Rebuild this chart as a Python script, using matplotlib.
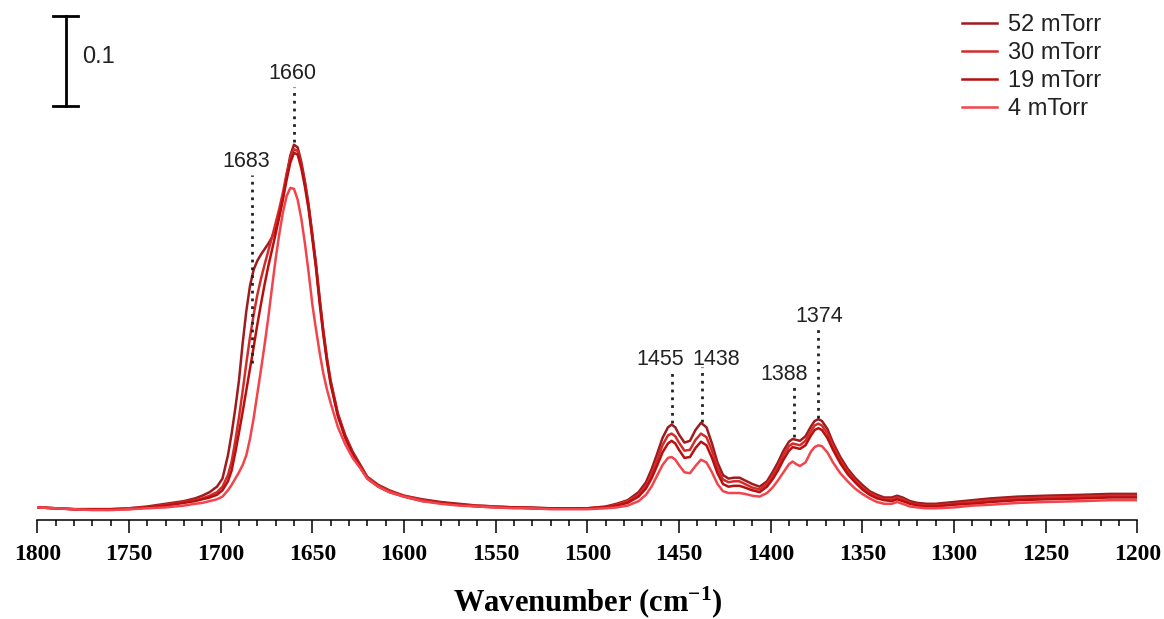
import matplotlib
matplotlib.use("Agg")
import matplotlib.pyplot as plt
from matplotlib.ticker import MultipleLocator

# wavenumber grid (cm-1) shared by all spectra
wavenumber = [1800, 1790, 1780, 1770, 1760, 1750, 1740, 1730, 1720,
              1714, 1710, 1706, 1702, 1699,
              1696, 1694, 1692, 1690, 1688, 1686, 1684, 1682, 1680, 1678,
              1676, 1674, 1672, 1670, 1668, 1666, 1664, 1662, 1660, 1658,
              1656, 1654, 1652, 1650, 1648, 1646, 1644, 1642, 1640,
              1636, 1632, 1628, 1624, 1620, 1614, 1608,
              1600, 1590, 1580, 1570, 1560, 1550, 1540, 1530, 1520, 1510, 1500,
              1490, 1484, 1478, 1472, 1468, 1465, 1462, 1459, 1456, 1454,
              1452, 1450, 1447, 1444, 1441, 1438, 1435, 1432, 1429, 1426,
              1423, 1420, 1417, 1414, 1410, 1406, 1402, 1399, 1396, 1393,
              1390, 1388, 1386, 1384, 1381, 1378, 1376, 1374, 1372, 1369,
              1366, 1362, 1358, 1354, 1350, 1346, 1342, 1338, 1334, 1331,
              1328, 1324, 1320, 1315, 1310,
              1300, 1290, 1280, 1265, 1250, 1230, 1215, 1200]

abs_52 = [0.014, 0.013, 0.012, 0.012, 0.012, 0.013, 0.015, 0.018, 0.021,
          0.024, 0.027, 0.031, 0.037, 0.046,
          0.072, 0.096, 0.124, 0.155, 0.196, 0.232, 0.260, 0.278, 0.288, 0.295,
          0.301, 0.307, 0.314, 0.324, 0.338, 0.358, 0.383, 0.405, 0.417, 0.414,
          0.398, 0.376, 0.350, 0.318, 0.285, 0.247, 0.211, 0.180, 0.155,
          0.118, 0.094, 0.076, 0.062, 0.048, 0.039, 0.033,
          0.027, 0.023, 0.020, 0.018, 0.016, 0.015, 0.014, 0.014, 0.013, 0.013, 0.013,
          0.015, 0.018, 0.022, 0.031, 0.042, 0.056, 0.073, 0.091, 0.103, 0.106,
          0.103, 0.095, 0.086, 0.088, 0.100, 0.108, 0.103, 0.085, 0.064, 0.050,
          0.046, 0.047, 0.047, 0.044, 0.040, 0.037, 0.043, 0.053, 0.064, 0.077,
          0.087, 0.090, 0.089, 0.088, 0.093, 0.104, 0.110, 0.112, 0.110, 0.101,
          0.086, 0.070, 0.057, 0.047, 0.039, 0.032, 0.028, 0.025, 0.025, 0.027,
          0.025, 0.021, 0.019, 0.018, 0.018,
          0.020, 0.022, 0.024, 0.026, 0.027, 0.028, 0.029, 0.029]

abs_30 = [0.014, 0.013, 0.012, 0.012, 0.012, 0.013, 0.014, 0.017, 0.020,
          0.022, 0.024, 0.027, 0.031, 0.037,
          0.050, 0.065, 0.088, 0.114, 0.143, 0.174, 0.203, 0.228, 0.250, 0.268,
          0.284, 0.299, 0.314, 0.330, 0.346, 0.364, 0.385, 0.402, 0.412, 0.410,
          0.395, 0.374, 0.348, 0.316, 0.283, 0.244, 0.209, 0.178, 0.153,
          0.116, 0.092, 0.074, 0.060, 0.047, 0.038, 0.032,
          0.027, 0.022, 0.019, 0.017, 0.016, 0.015, 0.014, 0.013, 0.013, 0.013, 0.013,
          0.014, 0.017, 0.021, 0.028, 0.038, 0.050, 0.066, 0.083, 0.094, 0.096,
          0.093, 0.086, 0.077, 0.078, 0.089, 0.096, 0.092, 0.077, 0.058, 0.045,
          0.042, 0.043, 0.043, 0.040, 0.036, 0.034, 0.040, 0.049, 0.059, 0.072,
          0.082, 0.085, 0.084, 0.083, 0.088, 0.099, 0.105, 0.107, 0.105, 0.096,
          0.082, 0.066, 0.054, 0.044, 0.036, 0.030, 0.026, 0.023, 0.023, 0.025,
          0.023, 0.019, 0.017, 0.016, 0.016,
          0.018, 0.020, 0.022, 0.024, 0.025, 0.026, 0.027, 0.027]

abs_19 = [0.014, 0.013, 0.012, 0.012, 0.012, 0.012, 0.014, 0.016, 0.019,
          0.021, 0.023, 0.025, 0.028, 0.033,
          0.043, 0.055, 0.075, 0.097, 0.120, 0.144, 0.168, 0.192, 0.217, 0.240,
          0.262, 0.282, 0.300, 0.318, 0.337, 0.357, 0.378, 0.397, 0.408, 0.406,
          0.391, 0.370, 0.345, 0.313, 0.280, 0.241, 0.206, 0.176, 0.151,
          0.115, 0.091, 0.073, 0.059, 0.046, 0.037, 0.031,
          0.026, 0.021, 0.019, 0.017, 0.015, 0.014, 0.014, 0.013, 0.013, 0.013, 0.013,
          0.014, 0.016, 0.019, 0.026, 0.035, 0.046, 0.060, 0.075, 0.085, 0.088,
          0.085, 0.078, 0.069, 0.070, 0.080, 0.087, 0.083, 0.069, 0.052, 0.040,
          0.037, 0.038, 0.038, 0.036, 0.033, 0.031, 0.037, 0.045, 0.055, 0.067,
          0.077, 0.081, 0.080, 0.079, 0.083, 0.094, 0.100, 0.102, 0.100, 0.091,
          0.078, 0.063, 0.051, 0.042, 0.034, 0.028, 0.024, 0.022, 0.021, 0.023,
          0.021, 0.018, 0.016, 0.015, 0.015,
          0.017, 0.018, 0.020, 0.022, 0.023, 0.024, 0.025, 0.025]

abs_4 = [0.014, 0.013, 0.012, 0.011, 0.011, 0.012, 0.013, 0.014, 0.016,
         0.018, 0.019, 0.021, 0.023, 0.026,
         0.033, 0.039, 0.046, 0.053, 0.061, 0.072, 0.090, 0.113, 0.140, 0.167,
         0.195, 0.225, 0.258, 0.290, 0.318, 0.342, 0.360, 0.369, 0.368, 0.356,
         0.335, 0.307, 0.275, 0.240, 0.212, 0.186, 0.163, 0.145, 0.130,
         0.103, 0.084, 0.069, 0.058, 0.046, 0.037, 0.031,
         0.026, 0.021, 0.018, 0.016, 0.015, 0.014, 0.013, 0.013, 0.012, 0.012, 0.012,
         0.013, 0.014, 0.016, 0.021, 0.028, 0.037, 0.049, 0.061, 0.069, 0.070,
         0.067, 0.061, 0.053, 0.052, 0.060, 0.067, 0.064, 0.053, 0.040, 0.032,
         0.030, 0.030, 0.030, 0.029, 0.027, 0.026, 0.030, 0.036, 0.044, 0.053,
         0.062, 0.065, 0.062, 0.060, 0.064, 0.076, 0.081, 0.083, 0.082, 0.075,
         0.064, 0.052, 0.043, 0.035, 0.029, 0.024, 0.020, 0.018, 0.018, 0.020,
         0.018, 0.015, 0.014, 0.013, 0.013,
         0.014, 0.016, 0.017, 0.019, 0.020, 0.021, 0.022, 0.022]

labels = ["52 mTorr", "30 mTorr", "19 mTorr", "4 mTorr"]
colors = ["#9e1b1e", "#d42a2a", "#b80f0f", "#f2444c"]

peak_labels = ["1683", "1660", "1455", "1438", "1388", "1374"]
peak_pos = [1683, 1660, 1454, 1437.5, 1387.5, 1374]

# layout of the dotted markers: (bottom, top) of the line, (x, y) of text
marker_span = [(0.174, 0.383), (0.420, 0.481), (0.108, 0.167),
               (0.109, 0.170), (0.092, 0.152), (0.113, 0.214)]
text_xy = [(1686.3, 0.392), (1661.1, 0.490), (1460.3, 0.172),
           (1429.9, 0.172), (1392.7, 0.155), (1373.6, 0.220)]

plt.rcParams["mathtext.fontset"] = "custom"
plt.rcParams["mathtext.rm"] = "Liberation Serif:bold"
plt.rcParams["mathtext.default"] = "rm"

W, H = 1164, 619
fig = plt.figure(figsize=(W / 100, H / 100), dpi=100)
ax = fig.add_axes([37.3 / W, (H - 520) / H, 1100 / W, 520 / H])

series = [abs_52, abs_30, abs_19, abs_4]
for y, lab, c in zip(series, labels, colors):
    assert len(y) == len(wavenumber)
    ax.plot(wavenumber, y, color=c, lw=1.8, label=lab, zorder=2)

ax.set_xlim(1800, 1200)
ax.set_ylim(0, 520 / 900)

for s in ["top", "left", "right"]:
    ax.spines[s].set_visible(False)
ax.spines["bottom"].set_linewidth(1.1)
ax.set_yticks([])
ax.xaxis.set_major_locator(MultipleLocator(50))
ax.xaxis.set_minor_locator(MultipleLocator(10))
ax.tick_params(axis="x", which="major", direction="out", length=9, width=1.1, pad=8)
ax.tick_params(axis="x", which="minor", direction="out", length=4.5, width=1.1)
for t in ax.get_xticklabels():
    t.set_fontfamily("Liberation Serif")
    t.set_fontweight("bold")
    t.set_fontsize(17)

ax.set_xlabel("Wavenumber (cm$^{-1}$)", fontfamily="Liberation Serif",
              fontweight="bold", fontsize=22, labelpad=14)

# dotted peak markers
for lab, x, (y0, y1), (tx, ty) in zip(peak_labels, peak_pos, marker_span, text_xy):
    ax.plot([x, x], [y0, y1], color="#222222", lw=2.0, ls=(0, (1, 1.8)), zorder=3)
    ax.text(tx, ty, lab, ha="center", va="baseline", fontsize=15.5,
            family="Liberation Sans", color="#222222")

# 0.1 absorbance scale bar
ax.plot([1784.3, 1784.3], [0.4603, 0.5603], color="black", lw=2.0, clip_on=False)
ax.plot([1791.4, 1777.8], [0.5603, 0.5603], color="black", lw=2.0, clip_on=False)
ax.plot([1791.4, 1777.8], [0.4603, 0.4603], color="black", lw=2.0, clip_on=False)
ax.text(1775.6, 0.514, "0.1", ha="left", va="center", fontsize=17,
        family="Liberation Sans", color="#222222")

leg = ax.legend(loc="upper left", bbox_to_anchor=(962 / W, 1 - 14 / H),
                bbox_transform=fig.transFigure, frameon=False,
                handlelength=1.48, handletextpad=0.47, labelspacing=0.26,
                borderpad=0, borderaxespad=0,
                prop={"family": "Liberation Sans", "size": 17})
for t in leg.get_texts():
    t.set_color("#222222")

fig.savefig("out.png", dpi=100)
